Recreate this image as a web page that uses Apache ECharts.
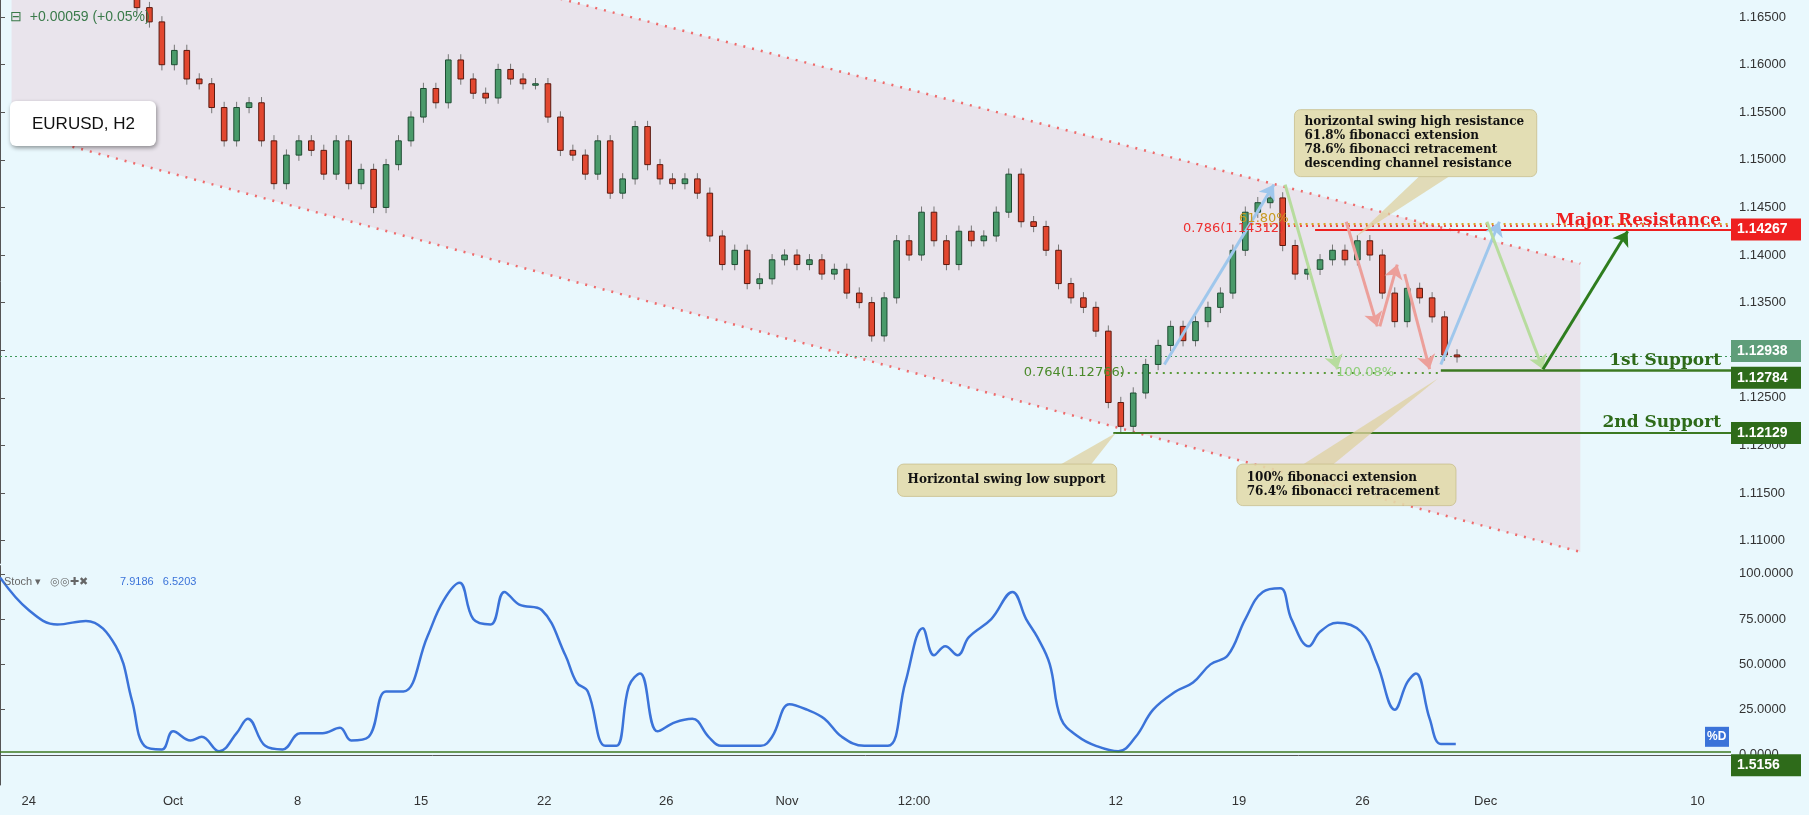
<!DOCTYPE html>
<html><head><meta charset="utf-8">
<script src="https://cdn.jsdelivr.net/npm/echarts@6/dist/echarts.min.js"></script>
<style>html,body{margin:0;padding:0;background:#e9f8fd}#c{width:1809px;height:815px}</style>
</head><body><div id="c"></div>
<script>
// close prices of candles, starting at bar index 11 (bar = half trading day)
const candleStart = 11;
const closes = [1.1660,1.1645,1.1600,1.1615,1.1585,1.1580,1.1555,1.1520,1.1555,1.1560,1.1520,1.1475,1.1505,1.1520,1.1510,1.1485,1.1520,1.1475,1.1490,1.1450,1.1495,1.1520,1.1545,1.1575,1.1560,1.1605,1.1585,1.1570,1.1565,1.1595,1.1585,1.1580,1.1580,1.1545,1.1510,1.1505,1.1485,1.1520,1.1465,1.1480,1.1535,1.1495,1.1480,1.1475,1.1480,1.1465,1.1420,1.1390,1.1405,1.1370,1.1375,1.1395,1.1400,1.1390,1.1395,1.1380,1.1385,1.1360,1.1350,1.1315,1.1355,1.1415,1.1400,1.1445,1.1415,1.1390,1.1425,1.1415,1.1420,1.1445,1.1485,1.1435,1.1430,1.1405,1.1370,1.1355,1.1345,1.1320,1.1245,1.1220,1.1255,1.1285,1.1305,1.1325,1.1310,1.1330,1.1345,1.1360,1.1405,1.1445,1.1455,1.1460,1.1410,1.1380,1.1385,1.1395,1.1405,1.1395,1.1415,1.1400,1.1360,1.1330,1.1365,1.1355,1.1335,1.1295,1.1293];
const firstOpen = 1.1672;
// Stochastic %D samples: bar position and value
const stochT = [0,2.3,4.6,6.9,9.3,10.6,11.6,13,13.9,15.3,16.2,17.6,19,19.9,21.3,22.7,24.1,25.9,27.3,28.2,29.6,31,32.4,34.3,35.6,36.9,38,39.4,40.5,41.7,43.5,45.4,46.3,47.2,48.6,49.5,50.5,51.4,52.8,54.2,55.6,56.9,57.9,59.3,61.1,62,63.4,64.8,66.2,67.6,69.4,71.3,72.7,74.1,75,75.9,76.9,77.8,79.6,81.3,82.4,83.3,84.3,85.2,86.6,88,89.8,91.2,92.6,94.4,95.8,97.2,98.6,100,101.4,102.8,103.7,105.1,106,107.4,109.3,110.6,112,113,113.7,114.8,115.7,116.9];
const stochV = [98,80,72,74,60,30,5,3,13,8,10,2,12,20,5,3,12,12,15,8,10,35,35,65,85,95,75,72,90,83,80,55,40,35,5,5,38,45,13,18,20,10,5,5,5,10,28,25,20,10,5,5,40,70,55,60,55,65,75,90,75,65,50,20,10,5,2,10,25,35,40,50,55,75,90,92,75,60,68,73,68,50,25,40,45,20,6,6];
// x axis tick labels and their bar positions
const xLabels = ['24','Oct','8','15','22','26','Nov','12:00','12','19','26','Dec','10'];
const xLabelPos = [2.3,13.9,23.9,33.8,43.7,53.5,63.2,73.4,89.6,99.5,109.4,119.3,136.3];
const yTicks = [1.110,1.115,1.120,1.125,1.130,1.135,1.140,1.145,1.150,1.155,1.160,1.165];
const stochTicks = [0,25,50,75,100];
// levels
const majorRes = 1.14267, sup1 = 1.12784, sup2 = 1.12129, lastPrice = 1.12938, stochLine = 1.5156;
const fib786 = 1.14312, fib618 = 1.14330, fib764 = 1.12766;
// channel endpoints [bar, price]
const chanUpper = [[0.93,1.1819],[126.9,1.1391]];
const chanLower = [[0.93,1.1531],[126.9,1.1088]];
// arrows [[x1,y1],[x2,y2],color]
const arrows = [
 [[93.5,1.1285],[102.3,1.1474],'#9fc7ec'],
 [[103.2,1.1474],[107.4,1.1280],'#b7dc9e'],
 [[108.1,1.1435],[110.6,1.1325],'#ec9f9a'],
 [[110.8,1.1325],[112.2,1.1390],'#ec9f9a'],
 [[112.8,1.1380],[114.8,1.1280],'#ec9f9a'],
 [[115.7,1.1285],[120.4,1.1435],'#9fc7ec'],
 [[119.4,1.1435],[123.9,1.1280],'#b7dc9e'],
 [[123.9,1.1280],[130.7,1.1425],'#2e7d1e']
];

const candles = closes.map((c,i)=>{
  const o = i===0?firstOpen:closes[i-1];
  return [candleStart+i,o,c,Math.min(o,c)-0.0006,Math.max(o,c)+0.0006];
});

const chart = echarts.init(document.getElementById('c'));
const XMIN=0, XMAX=139;
const sx = v=>v*1809/1568, sy=v=>v*815/706;
const opt = {
  backgroundColor:'#e9f8fd', animation:false,
  grid:[{left:0,right:78,top:0,height:sy(488)},{left:0,right:78,top:sy(490),bottom:sy(26)}],
  xAxis:[
    {type:'value',gridIndex:0,min:XMIN,max:XMAX,axisLabel:{show:false},axisTick:{show:false},axisLine:{show:false},splitLine:{show:false}},
    {type:'value',gridIndex:1,min:XMIN,max:XMAX,axisLine:{show:true,lineStyle:{color:'#555'}},splitLine:{show:false},
     axisTick:{show:false},
     axisLabel:{customValues:xLabelPos,formatter:v=>{const k=xLabelPos.indexOf(v);return k>=0?xLabels[k]:'';},color:'#333',fontSize:13,margin:10,fontFamily:'Arial'}}
  ],
  yAxis:[
    {type:'value',gridIndex:0,position:'right',min:1.1076,max:1.1668,axisLine:{show:true,lineStyle:{color:'#555'}},
     axisTick:{show:true,customValues:yTicks,lineStyle:{color:'#555'}},splitLine:{show:false},
     axisLabel:{customValues:yTicks,formatter:v=>v.toFixed(5),color:'#333',fontSize:13,fontFamily:'Arial'}},
    {type:'value',gridIndex:1,position:'right',min:-16.6,max:104.5,axisLine:{show:true,lineStyle:{color:'#555'}},
     axisTick:{show:true,customValues:stochTicks,lineStyle:{color:'#555'}},splitLine:{show:false},
     axisLabel:{customValues:stochTicks,formatter:v=>v.toFixed(4),color:'#333',fontSize:13,fontFamily:'Arial'}}
  ],
  series:[
    {type:'custom',xAxisIndex:0,yAxisIndex:0,silent:true,z:1,data:[0],
     renderItem:(p,api)=>{
       const pts=[api.coord(chanUpper[0]),api.coord(chanUpper[1]),api.coord(chanLower[1]),api.coord(chanLower[0])];
       return {type:'group',children:[
         {type:'polygon',shape:{points:pts},style:{fill:'#e9e4ec'}},
         {type:'line',shape:{x1:pts[0][0],y1:pts[0][1],x2:pts[1][0],y2:pts[1][1]},style:{stroke:'#ee6b6b',lineWidth:2.5,lineDash:[2,7]}},
         {type:'line',shape:{x1:pts[3][0],y1:pts[3][1],x2:pts[2][0],y2:pts[2][1]},style:{stroke:'#ee6b6b',lineWidth:2.5,lineDash:[2,7]}}
       ]};
     }},
    {type:'custom',xAxisIndex:0,yAxisIndex:0,z:5,data:candles,
     renderItem:(p,api)=>{
       const x=api.value(0),o=api.value(1),c=api.value(2),l=api.value(3),h=api.value(4);
       const po=api.coord([x,o]),pc=api.coord([x,c]),pl=api.coord([x,l]),ph=api.coord([x,h]);
       const w=api.size([0.45,0])[0];
       const up=c>=o;
       return {type:'group',children:[
         {type:'line',shape:{x1:po[0],y1:ph[1],x2:po[0],y2:pl[1]},style:{stroke:'#777',lineWidth:1}},
         {type:'rect',shape:{x:po[0]-w/2,y:Math.min(po[1],pc[1]),width:w,height:Math.max(1.5,Math.abs(po[1]-pc[1]))},
          style:{fill:up?'#4a9a6a':'#e2472f',stroke:up?'#1e4d33':'#5a1a10',lineWidth:1}}
       ]};
     }},
    {type:'line',xAxisIndex:0,yAxisIndex:0,data:[],symbol:'none',z:4,
     markLine:{silent:true,symbol:'none',label:{show:false},data:[
       [{coord:[XMIN,lastPrice],lineStyle:{color:'#3d9a5a',type:[2,3],width:1}},{coord:[XMAX,lastPrice]}],
       [{coord:[100.5,fib618],lineStyle:{color:'#d8a520',type:[2,4],width:2}},{coord:[XMAX,fib618]}],
       [{coord:[101.5,fib786],lineStyle:{color:'#ee5050',type:[2,4],width:2}},{coord:[XMAX,fib786]}],
       [{coord:[105.6,majorRes],lineStyle:{color:'#ee2020',type:'solid',width:2}},{coord:[XMAX,majorRes]}],
       [{coord:[90,fib764],lineStyle:{color:'#5a9a3a',type:[2,5],width:2}},{coord:[115.7,fib764]}],
       [{coord:[115.7,sup1],lineStyle:{color:'#3c7a22',type:'solid',width:2.5}},{coord:[XMAX,sup1]}],
       [{coord:[89.4,sup2],lineStyle:{color:'#3c7a22',type:'solid',width:2}},{coord:[XMAX,sup2]}]
     ]}},
    ...arrows.map(a=>({type:'lines',coordinateSystem:'cartesian2d',xAxisIndex:0,yAxisIndex:0,z:6,symbol:['none','arrow'],symbolSize:[0,14],
       lineStyle:{color:a[2],width:3,opacity:1},data:[{coords:[a[0],a[1]]}]})),
    {type:'line',xAxisIndex:1,yAxisIndex:1,data:stochT.map((t,i)=>[t,stochV[i]]),smooth:0.4,symbol:'none',
     lineStyle:{color:'#3b73d9',width:2.5},
     markLine:{silent:true,symbol:'none',label:{show:false},data:[[{coord:[XMIN,stochLine]},{coord:[XMAX,stochLine]}]],lineStyle:{color:'#3c7a22',type:'solid',width:1.5}}}
  ]
};
chart.setOption(opt);

const P=(b,v)=>chart.convertToPixel({gridIndex:0},[b,v]);
const P2=(b,v)=>chart.convertToPixel({gridIndex:1},[b,v]);
const W=1809, axX=W-78;
function tag(y,txt,bg,fg){return {type:'group',z:100,children:[
  {type:'rect',z:100,shape:{x:axX,y:y-11,width:70,height:22},style:{fill:bg}},
  {type:'text',z:101,x:axX+6,y:y,style:{text:txt,fill:fg||'#fff',font:'bold 14px Arial',verticalAlign:'middle'}}]};}
function callout(x,y,w,h,px,py,lines,bx){
  return {type:'group',z:100,children:[
    {type:'polygon',z:100,shape:{points:[[bx,y+(py>y?h:0)],[bx+30,y+(py>y?h:0)],[px,py]]},style:{fill:'rgba(222,210,160,0.75)'}},
    {type:'rect',z:100,shape:{x:x,y:y,width:w,height:h,r:6},style:{fill:'rgba(226,218,172,0.9)',stroke:'rgba(200,190,140,0.8)'}},
    {type:'text',z:101,x:x+10,y:y+h/2,style:{text:lines,fill:'#111',font:'bold 12px "DejaVu Serif"',lineHeight:14,verticalAlign:'middle'}}]};}
const yMR=P(0,majorRes)[1], yS1=P(0,sup1)[1], yS2=P(0,sup2)[1], yLP=P(0,lastPrice)[1];
const pSwingLow=P(89.6,1.1215), pHigh=P(104,1.1445), pFib=P(115.5,1.1279);
const pStoch=P2(0,stochLine);
const T=(o)=>Object.assign({z:100},o);
const g=[
  T({type:'text',x:10,y:17,style:{text:'⊟  +0.00059 (+0.05%)',fill:'#3a7a4a',font:'14px Arial',verticalAlign:'middle'}}),
  T({type:'rect',shape:{x:10,y:101,width:146,height:45,r:6},style:{fill:'#fff',shadowBlur:4,shadowColor:'rgba(0,0,0,0.4)',shadowOffsetX:1,shadowOffsetY:2}}),
  T({type:'text',z:101,x:32,y:124,style:{text:'EURUSD, H2',fill:'#111',font:'17px Arial',verticalAlign:'middle'}}),
  T({type:'text',x:4,y:sy(504),style:{text:'Stoch ▾   ◎◎✚✖',fill:'#666',font:'11px Arial',verticalAlign:'middle'}}),
  T({type:'text',x:120,y:sy(504),style:{text:'7.9186   6.5203',fill:'#3b73d9',font:'11px Arial',verticalAlign:'middle'}}),
  tag(yMR,'1.14267','#ee2020'), tag(yLP-5,'1.12938','#5f9e7a'), tag(yS1+7,'1.12784','#2e6b1a'), tag(yS2,'1.12129','#2e6b1a'),
  tag(pStoch[1]+13,'1.5156','#2e6b1a'),
  {type:'group',z:100,children:[{type:'rect',z:100,shape:{x:axX-26,y:P2(0,10)[1]-10,width:24,height:20},style:{fill:'#3b73d9'}},
    {type:'text',z:101,x:axX-24,y:P2(0,10)[1],style:{text:'%D',fill:'#fff',font:'bold 12px Arial',verticalAlign:'middle'}}]},
  T({type:'text',x:axX-10,y:yMR-9,style:{text:'Major Resistance',fill:'#ee2020',font:'bold 17px "DejaVu Serif"',align:'right',verticalAlign:'middle'}}),
  T({type:'text',x:axX-10,y:yS1-10,style:{text:'1st Support',fill:'#2e6b1a',font:'bold 17px "DejaVu Serif"',align:'right',verticalAlign:'middle'}}),
  T({type:'text',x:axX-10,y:yS2-10,style:{text:'2nd Support',fill:'#2e6b1a',font:'bold 17px "DejaVu Serif"',align:'right',verticalAlign:'middle'}}),
  T({type:'text',x:P(95,0)[0],y:P(0,fib786)[1]+3,style:{text:'0.786(1.14312)',fill:'#ee3030',font:'13px "DejaVu Sans"',verticalAlign:'middle'}}),
  T({type:'text',x:P(99.5,0)[0],y:P(0,fib618)[1]-5,style:{text:'61.80%',fill:'#c89a20',font:'13px "DejaVu Sans"',verticalAlign:'middle'}}),
  T({type:'text',x:P(82.2,0)[0],y:P(0,fib764)[1],style:{text:'0.764(1.12766)',fill:'#4a8a2a',font:'13px "DejaVu Sans"',verticalAlign:'middle'}}),
  T({type:'text',x:P(107.3,0)[0],y:P(0,fib764)[1],style:{text:'100.08%',fill:'#8fcf7a',font:'13px "DejaVu Sans"',verticalAlign:'middle'}}),
  callout(sx(1122),sy(95),sx(210),sy(58),pHigh[0]+60,pHigh[1]+25,'horizontal swing high resistance\n61.8% fibonacci extension\n78.6% fibonacci retracement\ndescending channel resistance',sx(1230)),
  callout(sx(778),sy(402),sx(190),sy(28),pSwingLow[0],pSwingLow[1]+2,'Horizontal swing low support',sx(920)),
  callout(sx(1072),sy(402),sx(190),sy(36),pFib[0],pFib[1]+8,'100% fibonacci extension\n76.4% fibonacci retracement',sx(1130))
];
chart.setOption({graphic:g});
</script></body></html>
